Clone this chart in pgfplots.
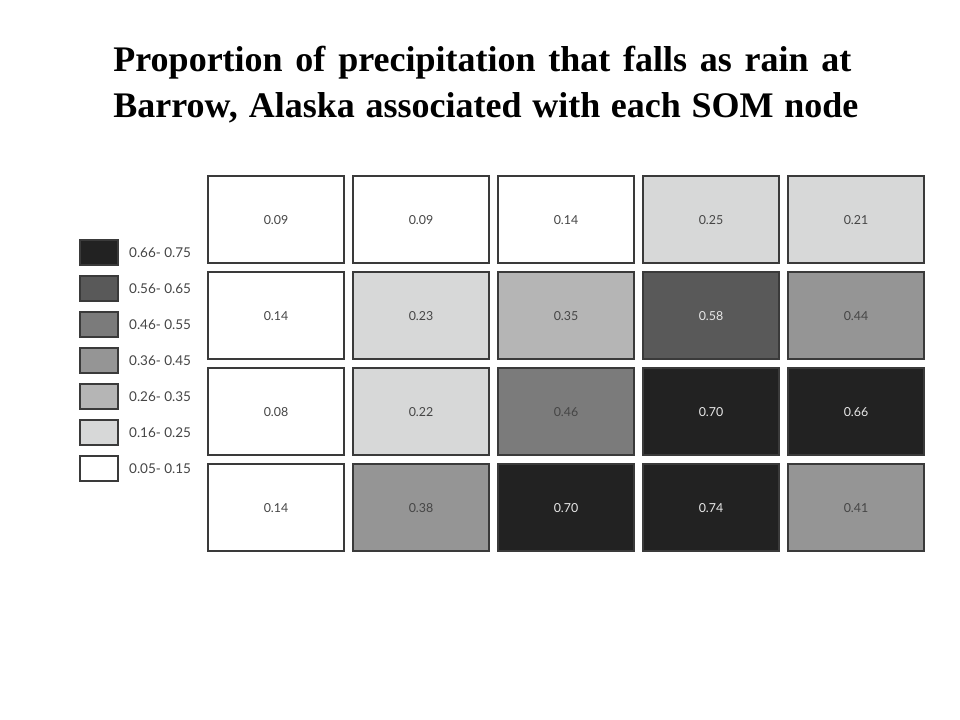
\documentclass[border=0pt]{standalone}
\usepackage{fontspec}
\setmainfont{Lato}
\newfontfamily\titlefont{Liberation Serif}
\usepackage{pgfplots}
\usepackage{pgfplotstable}
\pgfplotsset{compat=1.18}

\definecolor{cellline}{HTML}{3A3A3A}
\definecolor{labgray}{HTML}{454545}
\definecolor{darklab}{HTML}{E8E8E8}
\definecolor{c6}{HTML}{222222}
\definecolor{c5}{HTML}{595959}
\definecolor{c4}{HTML}{7B7B7B}
\definecolor{c3}{HTML}{959595}
\definecolor{c2}{HTML}{B5B5B5}
\definecolor{c1}{HTML}{D7D8D8}
\definecolor{c0}{HTML}{FFFFFF}

% SOM nodes: column, row (top = 1), proportion, class (0 = 0.05-0.15 ... 6 = 0.66-0.75)
\pgfplotstableread{
col row lab bin
1 1 0.09 0
2 1 0.09 0
3 1 0.14 0
4 1 0.25 1
5 1 0.21 1
1 2 0.14 0
2 2 0.23 1
3 2 0.35 2
4 2 0.58 5
5 2 0.44 3
1 3 0.08 0
2 3 0.22 1
3 3 0.46 4
4 3 0.70 6
5 3 0.66 6
1 4 0.14 0
2 4 0.38 3
3 4 0.70 6
4 4 0.74 6
5 4 0.41 3
}\somnodes

\begin{document}
\begin{tikzpicture}
\begin{axis}[
    width=480pt, height=360pt, scale only axis,
    xmin=-0.90345, xmax=5.71724,
    ymin=-1.29167, ymax=6.20833, y dir=reverse,
    hide axis, clip=false,
    cell/.style={
        forget plot, only marks, mark=square*,
        mark size=21.75pt, mark options={xscale=1.5632},
        draw=cellline, line width=1pt,
        point meta=explicit symbolic,
        nodes near coords, nodes near coords align=center,
        every node near coord/.append style={font=\fontsize{6.2}{7}\selectfont, text=#1},
    },
    legend cell align=left,
    legend style={
        at={(axis cs:-0.3586,1.1979)}, anchor=north west,
        draw=none, fill=none, inner sep=0pt,
        row sep=4.6pt, column sep=5pt,
        font=\fontsize{6.75}{8}\selectfont,
        nodes={inner sep=0pt, text depth=0pt, text=labgray},
    },
]
\addplot[cell=darklab, fill=c6, restrict expr to domain={\thisrow{bin}}{6:6}] table[x=col, y=row, meta=lab] {\somnodes};
\addplot[cell=darklab, fill=c5, restrict expr to domain={\thisrow{bin}}{5:5}] table[x=col, y=row, meta=lab] {\somnodes};
\addplot[cell=labgray, fill=c4, restrict expr to domain={\thisrow{bin}}{4:4}] table[x=col, y=row, meta=lab] {\somnodes};
\addplot[cell=labgray, fill=c3, restrict expr to domain={\thisrow{bin}}{3:3}] table[x=col, y=row, meta=lab] {\somnodes};
\addplot[cell=labgray, fill=c2, restrict expr to domain={\thisrow{bin}}{2:2}] table[x=col, y=row, meta=lab] {\somnodes};
\addplot[cell=labgray, fill=c1, restrict expr to domain={\thisrow{bin}}{1:1}] table[x=col, y=row, meta=lab] {\somnodes};
\addplot[cell=labgray, fill=c0, restrict expr to domain={\thisrow{bin}}{0:0}] table[x=col, y=row, meta=lab] {\somnodes};

\pgfplotsset{legend image code/.code={\draw[#1] (0pt,-6.25pt) rectangle (19pt,6.25pt);}}
\addlegendimage{draw=cellline, line width=0.9pt, fill=c6}
\addlegendentry{0.66- 0.75}
\addlegendimage{draw=cellline, line width=0.9pt, fill=c5}
\addlegendentry{0.56- 0.65}
\addlegendimage{draw=cellline, line width=0.9pt, fill=c4}
\addlegendentry{0.46- 0.55}
\addlegendimage{draw=cellline, line width=0.9pt, fill=c3}
\addlegendentry{0.36- 0.45}
\addlegendimage{draw=cellline, line width=0.9pt, fill=c2}
\addlegendentry{0.26- 0.35}
\addlegendimage{draw=cellline, line width=0.9pt, fill=c1}
\addlegendentry{0.16- 0.25}
\addlegendimage{draw=cellline, line width=0.9pt, fill=c0}
\addlegendentry{0.05- 0.15}

\node[anchor=base west, inner sep=0pt, font=\titlefont\bfseries\fontsize{18}{21}\selectfont]
    at (axis cs:-0.1241,-0.5448) {\makebox[369pt][s]{Proportion of precipitation that falls as rain at}};
\node[anchor=base west, inner sep=0pt, font=\titlefont\bfseries\fontsize{18}{21}\selectfont]
    at (axis cs:-0.1241,-0.0698) {\makebox[372.5pt][s]{Barrow, Alaska associated with each SOM node}};

\path (rel axis cs:0,0) rectangle (rel axis cs:1,1);
\end{axis}
\end{tikzpicture}
\end{document}
